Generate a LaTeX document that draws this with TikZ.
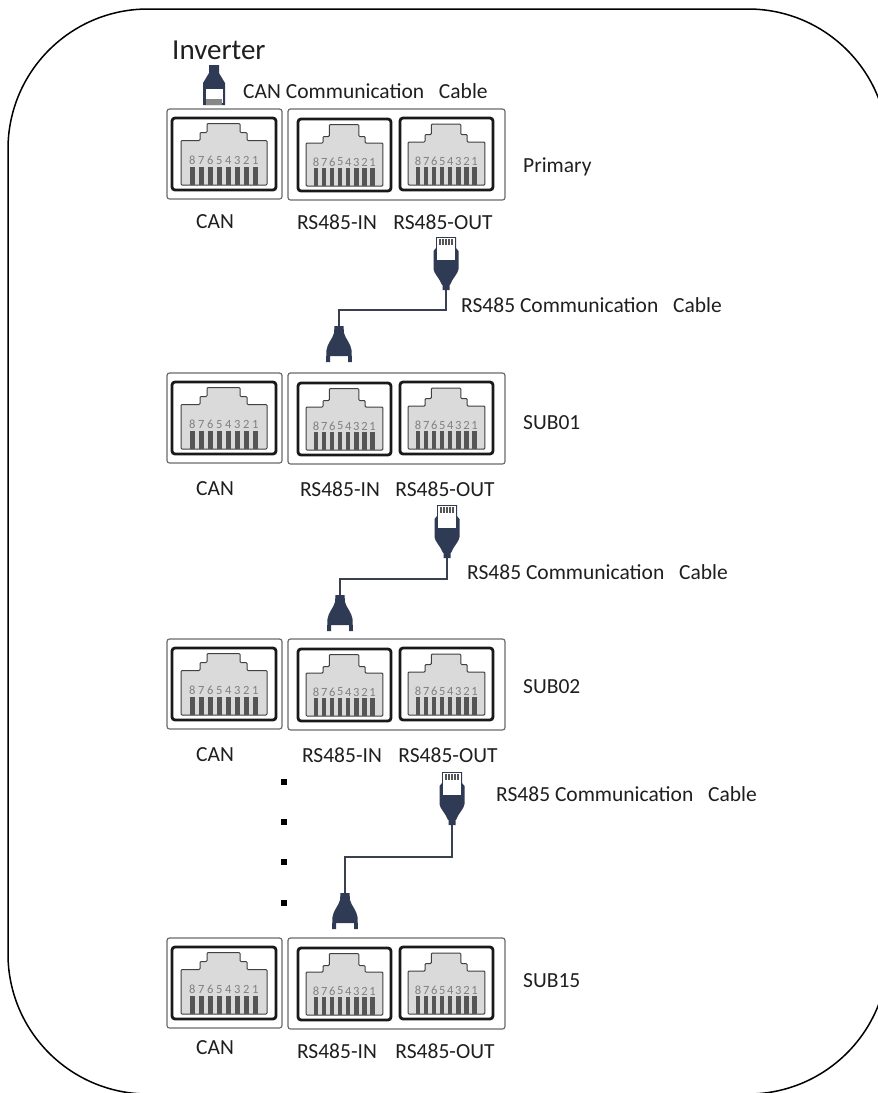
\documentclass[tikz,border=0pt]{standalone}
\usepackage{fontspec}
\setmainfont{Carlito}
\definecolor{plugdark}{HTML}{2F3A55}
\definecolor{cablecol}{HTML}{3A4050}
\definecolor{boxgray}{HTML}{6A6A6A}
\definecolor{sockfill}{HTML}{DADADA}
\definecolor{pincol}{HTML}{555555}
\definecolor{digitcol}{HTML}{808080}
\tikzset{
  outerbox/.style={draw=boxgray,line width=1.2pt,rounded corners=2.5pt},
  innerbox/.style={draw=black!90,line width=2.8pt,rounded corners=3pt,fill=white},
  sock/.style={draw=black!75,line width=1pt,fill=sockfill,rounded corners=1pt},
  pinbar/.style={fill=pincol,draw=none},
  digit/.style={text=digitcol,font=\fontsize{12.5}{13}\selectfont,inner sep=0pt},
  lab/.style={text=black!88,font=\fontsize{21.5}{23}\selectfont,inner sep=0pt},
  cable/.style={draw=cablecol,line width=2pt},
  plugbody/.style={fill=plugdark,draw=none},
}
% #1 left, #2 top, #3 xscale, #4 step y, #5 shoulder y, #6 top y, #7 digit y
\newcommand{\rjport}[7]{%
  \begin{scope}[shift={(#1,#2)},xscale=#3]
    \draw[innerbox] (0,0) rectangle (104,72);
    \draw[sock] (9,67) -- (9,#5) -- (28,#5) -- (28,#4) -- (35,#4) -- (35,#6) -- (68,#6) -- (68,#4) -- (75,#4) -- (75,#5) -- (95,#5) -- (95,67) -- cycle;
    \foreach \i/\d in {0/8,1/7,2/6,3/5,4/4,5/3,6/2,7/1}{
      \fill[pinbar] ({18+9*\i},49) rectangle ({22.7+9*\i},67);
      \node[digit] at ({20.3+9*\i},#7) {\d};
    }
  \end{scope}}
% #1 y offset
\newcommand{\rjmodule}[1]{%
  \begin{scope}[shift={(0,#1)}]
    \draw[outerbox] (167,109) rectangle (282,199);
    \draw[outerbox] (288,109) rectangle (505,200);
    \rjport{172}{118}{1}{14.5}{22.5}{5.5}{42.5}
    \rjport{298}{119}{0.894}{17.5}{24}{5.5}{43}
    \rjport{400}{118}{0.894}{16.5}{24}{6}{43.5}
  \end{scope}}
% #1 name, #2 x, #3 top y
\newcommand{\plugtop}[3]{%
  \begin{scope}[shift={(#2,#3)}]
    \fill[plugbody] (-12.5,14) -- (-12.5,32) .. controls (-12.5,36) and (-6,42) .. (-4.5,47) -- (-3.5,48) -- (-3.5,53) -- (3.5,53) -- (3.5,48) -- (4.5,47) .. controls (6,42) and (12.5,36) .. (12.5,32) -- (12.5,14) -- (10,11) -- (10,0) -- (-10,0) -- (-10,11) -- cycle;
    \fill[white] (-9,1) rectangle (9,23);
    \foreach \k in {-7,-4,-1,2,5}{\fill[pincol] (\k,2) rectangle (\k+2,8);}
    \coordinate (#1) at (0,53);
  \end{scope}}
\newcommand{\plugbot}[3]{%
  \begin{scope}[shift={(#2,#3)}]
    \fill[plugbody] (-4.5,0) -- (4.5,0) -- (5,7) .. controls (6,12) and (12,18) .. (12.5,24) -- (13,36) -- (9,36) -- (9,30) -- (-9,30) -- (-9,36) -- (-13,36) -- (-12.5,24) .. controls (-12,18) and (-6,12) .. (-5,7) -- cycle;
    \coordinate (#1) at (0,0);
  \end{scope}}
\newcommand{\gapsp}{\hspace{10pt}}
\begin{document}
\begin{tikzpicture}[x=1pt,y=-1pt]
  \useasboundingbox (0,0) rectangle (878,1093);
  \begin{scope}
    \clip (0,0) rectangle (878,1093);
    \draw[black,line width=1.5pt,rounded corners=140pt] (8,9) rectangle (888,1094);
  \end{scope}

  \rjmodule{0}
  \rjmodule{264}
  \rjmodule{530}
  \rjmodule{829}

  % inverter plug
  \fill[plugbody] (209,65) -- (219,65) -- (219,73) -- (225,83) -- (225,105) -- (203,105) -- (203,83) -- (209,73) -- cycle;
  \fill[white] (205.5,89) rectangle (222.5,103);
  \fill[pincol!70] (206,99) rectangle (222,105);

  % cables
  \plugtop{ta}{446}{237}
  \plugbot{ba}{339}{326}
  \coordinate (bendA) at (339,310);
  \draw[cable] (ta) |- (bendA) -- (ba);

  \plugtop{tb}{447}{505}
  \plugbot{bb}{340}{595}
  \coordinate (bendB) at (340,579);
  \draw[cable] (tb) |- (bendB) -- (bb);

  \plugtop{tc}{452}{772}
  \plugbot{bc}{345}{893}
  \coordinate (bendC) at (345,857);
  \draw[cable] (tc) |- (bendC) -- (bc);

  % dots
  \foreach \y in {782,822,862,903}{\fill[black] (281,\y-3) rectangle (287,\y+3);}

  % labels
  \node[lab,anchor=west,font=\fontsize{29}{31}\selectfont] (inv) at (172,50) {Inverter};
  \node[lab,anchor=west] (cc) at (243,91) {CAN Communication\gapsp{} Cable};
  \node[lab,anchor=west] (pri) at (523,167) {Primary};
  \node[lab,anchor=west] (s1) at (523,423) {SUB01};
  \node[lab,anchor=west] (s2) at (523,687) {SUB02};
  \node[lab,anchor=west] (s3) at (523,981) {SUB15};
  \node[lab,anchor=west] (r1) at (461,305) {RS485 Communication\gapsp{} Cable};
  \node[lab,anchor=west] (r2) at (467,572) {RS485 Communication\gapsp{} Cable};
  \node[lab,anchor=west] (r3) at (496,794) {RS485 Communication\gapsp{} Cable};

  \node[lab] (c0) at (215,222) {CAN};
  \node[lab] (i0) at (337,222) {RS485-IN};
  \node[lab] (o0) at (443,222) {RS485-OUT};
  \node[lab] (c1) at (215,489) {CAN};
  \node[lab] (i1) at (340,489) {RS485-IN};
  \node[lab] (o1) at (445,489) {RS485-OUT};
  \node[lab] (c2) at (215,755) {CAN};
  \node[lab] (i2) at (342,755) {RS485-IN};
  \node[lab] (o2) at (448,755) {RS485-OUT};
  \node[lab] (c3) at (215,1048) {CAN};
  \node[lab] (i3) at (337,1051) {RS485-IN};
  \node[lab] (o3) at (445,1051) {RS485-OUT};
\end{tikzpicture}
\end{document}
